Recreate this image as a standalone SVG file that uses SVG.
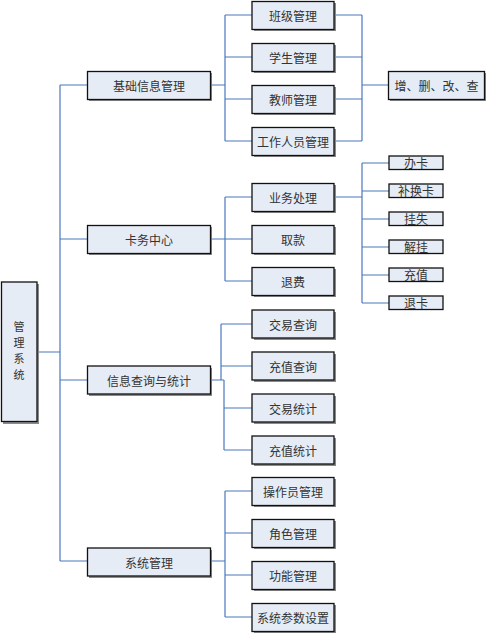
<svg xmlns="http://www.w3.org/2000/svg" width="488" height="634" viewBox="0 0 488 634">
<style>
.b{fill:#e6ecf6;stroke:#111;stroke-width:1.3}
.s{fill:#8a8a8a}
.t{font-family:"Noto Sans CJK SC","Liberation Serif",sans-serif;font-size:12px;fill:#333;text-anchor:middle;dominant-baseline:central}
.r{font-size:11px}
.c{fill:none;stroke:#4a78be;stroke-width:1.2}
</style>
<rect width="488" height="634" fill="#fff"/>
<g id="connectors">
<path class="c" d="M37 352H60M60 85V561M60 85H87M60 239H87M60 380H87M60 561H87"/>
<path class="c" d="M211 85H225M225 15V141M225 15H252M225 57H252M225 99H252M225 141H252"/>
<path class="c" d="M334 15H362M334 57H362M334 99H362M334 141H362M362 15V141M362 85H388"/>
<path class="c" d="M211 239H225M225 197V281M225 197H252M225 239H252M225 281H252"/>
<path class="c" d="M334 197H362M362 163V303M362 163H389M362 191H389M362 219H389M362 247H389M362 275H389M362 303H389"/>
<path class="c" d="M211 380H224M221 324V380M221 324H252M221 366H252M224 380V450M224 408H252M224 450H252"/>
<path class="c" d="M211 561H225M225 491V617M225 491H252M225 533H252M225 575H252M225 617H252"/>
</g>
<g id="root"><rect class="s" x="3" y="284" width="36" height="140"/><rect class="b" x="1.5" y="282" width="35.5" height="139.5"/>
<text class="t r" x="19" y="326">管</text><text class="t r" x="19" y="342">理</text><text class="t r" x="19" y="358">系</text><text class="t r" x="19" y="374">统</text></g>
<g id="n1"><rect class="s" x="89" y="73" width="123" height="28"/><rect class="b" x="87.5" y="71.5" width="123" height="28"/><text class="t" x="149" y="85.5">基础信息管理</text></g>
<g id="n2"><rect class="s" x="89" y="227" width="123" height="28"/><rect class="b" x="87.5" y="225.5" width="123" height="28"/><text class="t" x="149" y="239.5">卡务中心</text></g>
<g id="n3"><rect class="s" x="89" y="368" width="123" height="28"/><rect class="b" x="87.5" y="366" width="123" height="28"/><text class="t" x="149" y="380">信息查询与统计</text></g>
<g id="n4"><rect class="s" x="89" y="550" width="123" height="28"/><rect class="b" x="87.5" y="548" width="123" height="28"/><text class="t" x="149" y="562">系统管理</text></g>
<g id="n11"><rect class="s" x="254" y="3" width="82" height="28"/><rect class="b" x="252" y="1.5" width="82" height="28"/><text class="t" x="293" y="15.5">班级管理</text></g>
<g id="n12"><rect class="s" x="254" y="45" width="82" height="28"/><rect class="b" x="252" y="43.5" width="82" height="28"/><text class="t" x="293" y="57.5">学生管理</text></g>
<g id="n13"><rect class="s" x="254" y="87" width="82" height="28"/><rect class="b" x="252" y="85.5" width="82" height="28"/><text class="t" x="293" y="99.5">教师管理</text></g>
<g id="n14"><rect class="s" x="254" y="129" width="82" height="28"/><rect class="b" x="252" y="127.5" width="82" height="28"/><text class="t" x="293" y="141.5">工作人员管理</text></g>
<g id="crud"><rect class="s" x="390" y="73" width="96" height="28"/><rect class="b" x="388.5" y="71.5" width="96" height="28"/><text class="t" x="436.5" y="85.5">增、删、改、查</text></g>
<g id="n21"><rect class="s" x="254" y="185" width="82" height="28"/><rect class="b" x="252" y="183.5" width="82" height="28"/><text class="t" x="293" y="197.5">业务处理</text></g>
<g id="n22"><rect class="s" x="254" y="227" width="82" height="28"/><rect class="b" x="252" y="225.5" width="82" height="28"/><text class="t" x="293" y="239.5">取款</text></g>
<g id="n23"><rect class="s" x="254" y="269" width="82" height="28"/><rect class="b" x="252" y="267.5" width="82" height="28"/><text class="t" x="293" y="281.5">退费</text></g>
<g id="k1"><rect class="b" x="389" y="156" width="54" height="13.5"/><text class="t" x="416" y="162.5">办卡</text></g>
<g id="k2"><rect class="b" x="389" y="184" width="54" height="13.5"/><text class="t" x="416" y="190.5">补换卡</text></g>
<g id="k3"><rect class="b" x="389" y="212" width="54" height="13.5"/><text class="t" x="416" y="218.5">挂失</text></g>
<g id="k4"><rect class="b" x="389" y="240" width="54" height="13.5"/><text class="t" x="416" y="246.5">解挂</text></g>
<g id="k5"><rect class="b" x="389" y="268" width="54" height="13.5"/><text class="t" x="416" y="274.5">充值</text></g>
<g id="k6"><rect class="b" x="389" y="296" width="54" height="13.5"/><text class="t" x="416" y="302.5">退卡</text></g>
<g id="n31"><rect class="s" x="254" y="312" width="82" height="28"/><rect class="b" x="252" y="310" width="82" height="28"/><text class="t" x="293" y="324">交易查询</text></g>
<g id="n32"><rect class="s" x="254" y="354" width="82" height="28"/><rect class="b" x="252" y="352" width="82" height="28"/><text class="t" x="293" y="366">充值查询</text></g>
<g id="n33"><rect class="s" x="254" y="396" width="82" height="28"/><rect class="b" x="252" y="394" width="82" height="28"/><text class="t" x="293" y="408">交易统计</text></g>
<g id="n34"><rect class="s" x="254" y="438" width="82" height="28"/><rect class="b" x="252" y="436" width="82" height="28"/><text class="t" x="293" y="450">充值统计</text></g>
<g id="n41"><rect class="s" x="254" y="479" width="82" height="28"/><rect class="b" x="252" y="477.5" width="82" height="28"/><text class="t" x="293" y="491.5">操作员管理</text></g>
<g id="n42"><rect class="s" x="254" y="521" width="82" height="28"/><rect class="b" x="252" y="519.5" width="82" height="28"/><text class="t" x="293" y="533.5">角色管理</text></g>
<g id="n43"><rect class="s" x="254" y="563" width="82" height="28"/><rect class="b" x="252" y="561.5" width="82" height="28"/><text class="t" x="293" y="575.5">功能管理</text></g>
<g id="n44"><rect class="s" x="254" y="605" width="82" height="28"/><rect class="b" x="252" y="603.5" width="82" height="28"/><text class="t" x="293" y="617.5">系统参数设置</text></g>
</svg>
